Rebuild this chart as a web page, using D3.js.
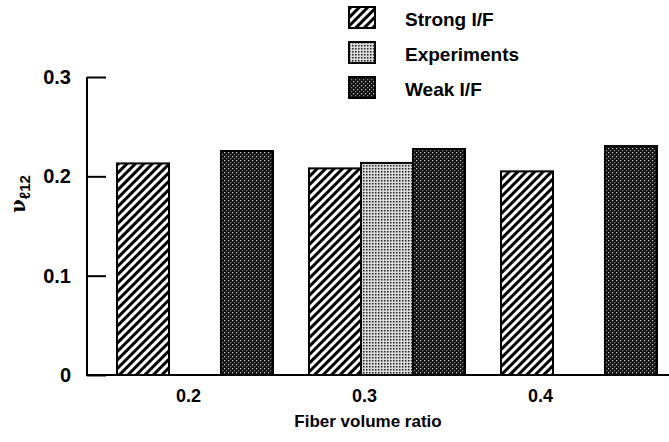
<!DOCTYPE html>
<html>
<head>
<meta charset="utf-8">
<script src="https://cdn.jsdelivr.net/npm/d3@7"></script>
<style>
  body { margin: 0; background: white; }
  text { font-family: "Liberation Sans", Arial, sans-serif; font-weight: bold; fill: #000; }
</style>
</head>
<body>
<div id="container"></div>
<script>
const width = 669, height = 442;

// data
const ratios = ["0.2", "0.3", "0.4"];
const series = ["Strong I/F", "Experiments", "Weak I/F"];
const strongVals = [0.213, 0.208, 0.205];
const expVals = [null, 0.2135, null];
const weakVals = [0.2255, 0.2275, 0.2305];
const yTicks = [0, 0.1, 0.2, 0.3];
const xLabelVals = [0.2, 0.3, 0.4];

const svg = d3.select("#container").append("svg")
    .attr("width", width)
    .attr("height", height);

// fill patterns
const defs = svg.append("defs");
const hatch = defs.append("pattern")
    .attr("id", "hatch")
    .attr("patternUnits", "userSpaceOnUse")
    .attr("width", 6).attr("height", 6)
    .attr("patternTransform", "rotate(45)");
hatch.append("rect").attr("width", 6).attr("height", 6).attr("fill", "white");
hatch.append("rect").attr("x", 0).attr("width", 3).attr("height", 6).attr("fill", "black");

const dots = defs.append("pattern")
    .attr("id", "dots")
    .attr("patternUnits", "userSpaceOnUse")
    .attr("width", 3).attr("height", 3);
dots.append("rect").attr("width", 3).attr("height", 3).attr("fill", "#dadada");
dots.append("rect").attr("width", 1.5).attr("height", 1.5).attr("fill", "#222");

const dark = defs.append("pattern")
    .attr("id", "dark")
    .attr("patternUnits", "userSpaceOnUse")
    .attr("width", 4).attr("height", 4);
dark.append("rect").attr("width", 4).attr("height", 4).attr("fill", "#111");
dark.append("rect").attr("x", 0).attr("y", 0).attr("width", 1.2).attr("height", 1.2).attr("fill", "#ccc");
dark.append("rect").attr("x", 2).attr("y", 2).attr("width", 1.2).attr("height", 1.2).attr("fill", "#888");

const fills = { "Strong I/F": "url(#hatch)", "Experiments": "url(#dots)", "Weak I/F": "url(#dark)" };

// scales
const y = d3.scaleLinear().domain([0, 0.3]).range([375, 77]);
const x0 = d3.scaleBand().domain(ratios).range([117, 657]).paddingInner(0.1875).paddingOuter(0);
const x1 = d3.scaleBand().domain(series).range([0, x0.bandwidth()]);
const xLab = d3.scaleLinear().domain([0.2, 0.4]).range([188, 540]);

const rows = [];
ratios.forEach((r, i) => {
    rows.push({ ratio: r, series: "Strong I/F", value: strongVals[i] });
    rows.push({ ratio: r, series: "Experiments", value: expVals[i] });
    rows.push({ ratio: r, series: "Weak I/F", value: weakVals[i] });
});

// bars
svg.append("g").selectAll("rect")
    .data(rows.filter(d => d.value != null))
    .join("rect")
    .attr("x", d => x0(d.ratio) + x1(d.series))
    .attr("y", d => y(d.value))
    .attr("width", x1.bandwidth())
    .attr("height", d => y(0) - y(d.value))
    .attr("fill", d => fills[d.series])
    .attr("stroke", "black")
    .attr("stroke-width", 2);

// y axis
const yAxis = svg.append("g")
    .attr("transform", "translate(87,0)")
    .call(d3.axisLeft(y).tickValues(yTicks).tickSize(-19).tickPadding(16)
        .tickFormat(d => d === 0 ? "0" : d3.format(".1f")(d)));
yAxis.select(".domain").attr("stroke-width", 2).attr("d", `M0,${y(0.3)}V${y(0)}`);
yAxis.selectAll(".tick line").attr("stroke-width", 2);
yAxis.selectAll(".tick text").style("font-size", "20px");

// x baseline
svg.append("line")
    .attr("x1", 86).attr("x2", width)
    .attr("y1", y(0)).attr("y2", y(0))
    .attr("stroke", "black").attr("stroke-width", 2);

// x labels
const xAxis = svg.append("g")
    .attr("transform", `translate(0,${y(0)})`)
    .call(d3.axisBottom(xLab).tickValues(xLabelVals).tickSize(0).tickPadding(14)
        .tickFormat(d3.format(".1f")));
xAxis.select(".domain").remove();
xAxis.selectAll(".tick text").style("font-size", "18px");

svg.append("text")
    .attr("x", 368).attr("y", 427)
    .attr("text-anchor", "middle")
    .style("font-size", "17px")
    .text("Fiber volume ratio");

// y title
const yt = svg.append("text")
    .attr("transform", "translate(25,194) rotate(-90)")
    .attr("text-anchor", "middle")
    .style("font-size", "20px");
yt.append("tspan").text("ν").style("font-family", "DejaVu Serif");
yt.append("tspan").attr("dy", 5).style("font-size", "15px").text("ℓ12");

// legend
const legend = svg.append("g");
series.forEach((s, i) => {
    const g = legend.append("g").attr("transform", `translate(349,${7 + i * 35})`);
    g.append("rect").attr("width", 26).attr("height", 21)
        .attr("fill", fills[s]).attr("stroke", "black").attr("stroke-width", 2);
    g.append("text").attr("x", 56).attr("y", 19).style("font-size", "19px").text(s);
});
</script>
</body>
</html>
